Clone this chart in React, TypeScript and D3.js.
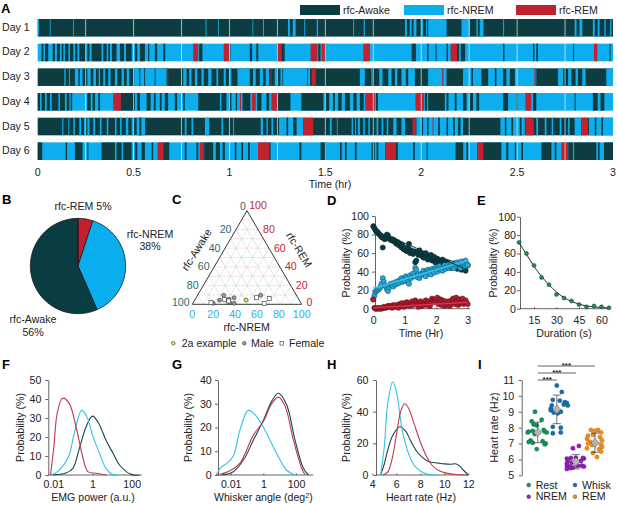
import React, { useEffect, useRef } from 'react';
import * as d3 from 'd3';

type Seg = [number, number, string];

const AWAKE = '#0a3d41';
const NREM = '#0aaeef';
const REM = '#c1202f';
const FONT = '"Liberation Sans", Arial, sans-serif';
const TXT = 10.6;
const stateColor: Record<string, string> = { A: AWAKE, N: NREM, R: REM };

const dayLabels = ['Day 1', 'Day 2', 'Day 3', 'Day 4', 'Day 5', 'Day 6'];
const dayBases = ['A', 'N', 'A', 'N', 'A', 'N'];

// Sleep-state intervals in hours, painted in order over each day's base state
const day1: Seg[] = [[0, .006, 'N'], [.063, .067, 'N'], [.184, .188, 'N'], [.875, .88, 'N'], [.94, .944, 'N'], [1.12, 1.124, 'N'], [1.175, 1.18, 'N'], [1.305, 1.315, 'N'], [1.33, 1.345, 'N'], [1.39, 1.395, 'N'], [1.455, 1.462, 'N'], [1.645, 1.65, 'N'], [1.7, 1.706, 'N'], [1.915, 1.925, 'N'], [1.94, 1.95, 'N'], [1.96, 1.975, 'N'], [2.0, 2.01, 'N'], [2.025, 2.03, 'N'], [2.036, 2.132, 'N'], [2.21, 2.253, 'N'], [2.288, 2.295, 'N'], [2.305, 2.325, 'N'], [2.427, 2.432, 'N'], [2.8, 2.81, 'N'], [2.825, 2.84, 'N'], [2.895, 2.905, 'N'], [2.92, 2.93, 'N'], [2.955, 2.962, 'N'], [2.985, 2.992, 'N']];
const day2: Seg[] = [[.02, .03, 'A'], [.038, .055, 'A'], [.078, .09, 'A'], [.1, .116, 'A'], [.125, .134, 'A'], [.142, .16, 'A'], [.168, .186, 'A'], [.195, .207, 'A'], [.217, .252, 'A'], [.259, .27, 'A'], [.281, .333, 'A'], [.342, .36, 'A'], [.368, .377, 'A'], [.387, .411, 'A'], [.429, .45, 'A'], [.46, .49, 'A'], [.507, .519, 'A'], [.533, .559, 'A'], [.576, .582, 'A'], [.611, .623, 'A'], [.655, .665, 'A'], [.811, .837, 'R'], [.842, .859, 'A'], [.97, .998, 'R'], [1.0, 1.005, 'A'], [1.106, 1.118, 'A'], [1.14, 1.15, 'A'], [1.248, 1.271, 'R'], [1.271, 1.288, 'A'], [1.423, 1.458, 'R'], [1.463, 1.475, 'A'], [1.481, 1.503, 'R'], [1.698, 1.732, 'R'], [1.95, 1.972, 'A'], [2.031, 2.038, 'A'], [2.075, 2.08, 'A'], [2.132, 2.139, 'A'], [2.153, 2.187, 'R'], [2.187, 2.197, 'A'], [2.206, 2.229, 'A'], [2.427, 2.434, 'A'], [2.583, 2.59, 'A'], [2.6, 2.609, 'A'], [2.792, 2.797, 'A'], [2.901, 2.918, 'R'], [2.982, 2.987, 'A']];
const day3: Seg[] = [[.139, .146, 'N'], [.163, .168, 'N'], [.194, .212, 'N'], [.22, .234, 'N'], [.259, .276, 'N'], [.29, .304, 'N'], [.318, .325, 'N'], [.342, .352, 'N'], [.368, .38, 'N'], [.403, .415, 'N'], [.4375, .45, 'N'], [.464, .477, 'N'], [.503, .672, 'N'], [.53, .535, 'A'], [.555, .56, 'A'], [.61, .613, 'A'], [.676, .681, 'R'], [.759, .776, 'N'], [.79, .802, 'N'], [.82, .832, 'N'], [.854, .866, 'N'], [.889, .906, 'N'], [.932, .941, 'N'], [.97, .981, 'N'], [1.002, 1.01, 'N'], [1.042, 1.106, 'N'], [1.123, 1.137, 'N'], [1.158, 1.175, 'N'], [1.189, 1.207, 'N'], [1.214, 1.219, 'R'], [1.236, 1.248, 'N'], [1.266, 1.276, 'N'], [1.28, 1.42, 'N'], [1.405, 1.41, 'R'], [1.429, 1.45, 'R'], [1.68, 1.706, 'N'], [1.74, 1.746, 'N'], [1.781, 1.798, 'N'], [1.828, 1.845, 'N'], [1.863, 1.875, 'N'], [1.897, 1.92, 'N'], [1.932, 1.967, 'N'], [2.036, 2.132, 'N'], [2.109, 2.116, 'R'], [2.218, 2.314, 'N'], [2.262, 2.27, 'A'], [2.349, 2.427, 'N'], [2.384, 2.392, 'A'], [2.444, 2.462, 'N'], [2.488, 2.6, 'N'], [2.59, 2.597, 'R'], [2.713, 2.74, 'N'], [2.766, 2.783, 'N'], [2.805, 2.817, 'N'], [2.84, 2.857, 'N'], [2.965, 3.0, 'N']];
const day4: Seg[] = [[0, .012, 'A'], [.02, .038, 'A'], [.047, .064, 'A'], [.073, .108, 'A'], [.116, .142, 'A'], [.151, .165, 'A'], [.172, .18, 'A'], [.259, .276, 'A'], [.286, .299, 'A'], [.316, .325, 'A'], [.394, .434, 'R'], [.434, .507, 'A'], [.519, .533, 'A'], [.568, .589, 'A'], [.606, .615, 'A'], [.637, .646, 'A'], [.663, .68, 'A'], [.715, .727, 'A'], [.759, .767, 'A'], [.837, .95, 'A'], [.958, .984, 'A'], [.998, 1.01, 'A'], [1.033, 1.04, 'A'], [1.054, 1.06, 'R'], [1.068, 1.109, 'A'], [1.118, 1.137, 'R'], [1.144, 1.167, 'A'], [1.193, 1.207, 'A'], [1.219, 1.25, 'R'], [1.253, 1.318, 'A'], [1.375, 1.49, 'A'], [1.5, 1.52, 'A'], [1.54, 1.55, 'A'], [1.567, 1.585, 'A'], [1.602, 1.628, 'A'], [1.646, 1.663, 'A'], [1.68, 1.7, 'A'], [1.708, 1.758, 'R'], [1.764, 1.774, 'A'], [1.97, 2.014, 'R'], [2.019, 2.03, 'A'], [2.036, 2.123, 'A'], [2.132, 2.142, 'A'], [2.175, 2.184, 'A'], [2.218, 2.236, 'A'], [2.253, 2.27, 'A'], [2.288, 2.302, 'A'], [2.427, 2.453, 'A'], [2.496, 2.505, 'A'], [2.543, 2.574, 'R'], [2.583, 2.6, 'A'], [2.8, 2.805, 'A'], [2.895, 2.92, 'A'], [2.935, 2.955, 'A']];
const day5: Seg[] = [[.128, .134, 'N'], [.16, .165, 'N'], [.186, .194, 'N'], [.217, .226, 'N'], [.241, .248, 'N'], [.259, .27, 'N'], [.29, .299, 'N'], [.325, .333, 'N'], [.36, .368, 'N'], [.403, .411, 'N'], [.429, .4375, 'N'], [.46, .472, 'N'], [.49, .498, 'N'], [.516, .56, 'N'], [.53, .54, 'A'], [.767, .776, 'N'], [.802, .811, 'N'], [.872, .894, 'N'], [.958, .967, 'N'], [1.019, 1.024, 'N'], [1.163, 1.175, 'N'], [1.193, 1.2, 'N'], [1.219, 1.228, 'N'], [1.259, 1.28, 'N'], [1.28, 1.384, 'N'], [1.297, 1.306, 'A'], [1.332, 1.35, 'A'], [1.384, 1.437, 'R'], [1.524, 1.533, 'N'], [1.56, 1.564, 'N'], [1.637, 1.645, 'N'], [1.655, 1.66, 'N'], [1.67, 1.68, 'N'], [1.698, 1.706, 'N'], [1.724, 1.732, 'N'], [1.767, 1.776, 'N'], [1.793, 1.802, 'N'], [1.82, 1.828, 'N'], [1.854, 1.871, 'N'], [1.897, 1.915, 'N'], [1.955, 1.972, 'R'], [1.975, 2.218, 'N'], [2.0, 2.01, 'A'], [2.031, 2.038, 'A'], [2.059, 2.064, 'R'], [2.088, 2.097, 'A'], [2.132, 2.14, 'A'], [2.166, 2.175, 'A'], [2.192, 2.205, 'A'], [2.413, 2.54, 'N'], [2.436, 2.444, 'A'], [2.47, 2.479, 'A'], [2.514, 2.523, 'A'], [2.543, 2.587, 'R'], [2.6, 2.609, 'N'], [2.644, 2.653, 'N'], [2.68, 2.688, 'N'], [2.722, 2.731, 'N'], [2.766, 2.774, 'N'], [2.8, 2.835, 'N'], [2.837, 2.87, 'R'], [2.875, 3.0, 'N'], [2.905, 2.913, 'A'], [2.94, 2.948, 'A']];
const day6: Seg[] = [[0, .024, 'A'], [.146, .153, 'A'], [.194, .234, 'A'], [.259, .264, 'A'], [.333, .403, 'A'], [.411, .4375, 'A'], [.446, .49, 'A'], [.507, .519, 'A'], [.542, .559, 'A'], [.594, .602, 'A'], [.625, .655, 'R'], [.655, .686, 'A'], [.767, .776, 'A'], [.828, .837, 'A'], [.845, .868, 'R'], [.868, .915, 'A'], [.929, .95, 'A'], [.964, .976, 'A'], [1.028, 1.036, 'A'], [1.062, 1.071, 'A'], [1.097, 1.106, 'A'], [1.149, 1.207, 'R'], [1.207, 1.214, 'A'], [1.365, 1.375, 'A'], [1.475, 1.503, 'A'], [1.576, 1.585, 'A'], [1.602, 1.611, 'A'], [1.654, 1.663, 'A'], [1.741, 1.758, 'A'], [1.767, 1.776, 'A'], [1.811, 1.868, 'R'], [1.868, 1.878, 'A'], [1.958, 1.967, 'A'], [2.028, 2.033, 'A'], [2.179, 2.219, 'A'], [2.236, 2.245, 'A'], [2.291, 2.323, 'R'], [2.323, 2.418, 'A'], [2.444, 2.454, 'A'], [2.488, 2.496, 'A'], [2.522, 2.531, 'A'], [2.627, 2.679, 'A'], [2.696, 2.705, 'A'], [2.731, 2.767, 'R'], [2.767, 2.791, 'A'], [2.797, 2.913, 'A'], [2.922, 2.93, 'A'], [2.953, 3.0, 'A']];
const dayData = [day1, day2, day3, day4, day5, day6];
const hourTicks = [0, 0.5, 1, 1.5, 2, 2.5, 3];
const quarterHours = [.25, .5, .75, 1, 1.25, 1.5, 1.75, 2, 2.25, 2.5, 2.75];

const pieNames = ['rfc-REM', 'rfc-NREM', 'rfc-Awake'];
const pieValues = [5, 38, 56];

// Ternary points as [NREM %, REM %]
const ternMale = [[23.9, 9.6], [22.7, 4.3], [30.9, 5.3], [34.7, 7], [37.7, 1], [18.5, 1], [57.6, 9.6], [33.3, 1.8]];
const ternFemale = [[16.2, 1.8], [27, 5.3], [31.5, 3.5], [55.2, 7], [67.1, 6.4], [65.3, .7]];
const ternExample = [[46.9, 4.6]];
const ternTicks = [0, 20, 40, 60, 80, 100];

const probAwake = [89, 87, 85, 83, 83, 81, 80, 79, 77, 66, 76, 75, 78, 80, 79, 76, 75, 74, 75, 73, 74, 72, 70, 72, 71, 68, 70, 66, 68, 64, 65, 63, 62, 66, 70, 60, 63, 61, 59, 62, 50, 52, 61, 58, 63, 60, 57, 59, 55, 58, 60, 56, 53, 57, 55, 58, 52, 54, 56, 50, 53, 54, 51, 49, 52, 50, 53, 48, 46, 51, 49, 47, 50, 47, 44, 48, 46, 49, 45, 47, 43, 46, 44, 48, 42, 45, 43, 47, 41, 46, 47];
const probNrem = [10, 14, 18, 19, 20, 21, 22, 24, 27, 33, 29, 25, 24, 21, 19, 23, 26, 27, 25, 24, 28, 26, 29, 27, 30, 28, 31, 33, 29, 32, 30, 35, 33, 29, 27, 36, 33, 35, 38, 35, 44, 42, 34, 37, 33, 36, 38, 37, 41, 38, 35, 40, 42, 38, 41, 37, 43, 41, 39, 44, 42, 40, 43, 46, 42, 44, 41, 45, 47, 43, 45, 47, 44, 46, 49, 45, 47, 44, 48, 46, 50, 47, 48, 44, 51, 47, 49, 45, 52, 48, 47];
const probRem = [10, 1, 0, 0, 1, 0, 0, 1, 0, 1, 2, 1, 1, 2, 3, 2, 3, 2, 1, 4, 2, 3, 4, 2, 1, 5, 3, 6, 4, 2, 6, 3, 7, 6, 4, 3, 5, 8, 4, 6, 9, 7, 5, 2, 6, 8, 3, 6, 4, 7, 9, 4, 8, 5, 3, 6, 11, 9, 7, 10, 8, 12, 5, 8, 10, 4, 9, 6, 3, 8, 5, 4, 8, 3, 5, 9, 11, 8, 5, 12, 9, 4, 10, 6, 7, 11, 5, 7, 9, 6, 5];
const fitAwake = [85, 42];
const fitNrem = [22, 52];
const fitRem = [1, 7];
const fitHours = [0, 3];

const durSeconds = [5, 10, 15, 20, 25, 30, 35, 40, 45, 50, 55, 60, 65];
const durProb = [72, 60, 47, 34, 26, 15.5, 11.5, 8.5, 4.5, 2, 3, 2, 1];
const durFit = [72, 59, 46, 35, 26, 18, 12, 8, 5, 3, 2, 1.3, 0.8];

// log10 x, then probability
const emgAwake = [[-2.05, 0], [-1.36, 1], [-1, 3.5], [-.67, 14], [-.3, 26], [0, 31], [.3, 27.5], [.7, 18], [1.05, 11.4], [1.4, 5], [2, .2], [2.4, 0]];
const emgNrem = [[-2.14, 0], [-1.97, .5], [-1.53, 4.4], [-1.19, 10.5], [-.93, 22], [-.55, 34], [-.3, 31], [0, 21], [.36, 11.4], [.7, 3.2], [1.05, .2], [1.3, 0]];
const emgRem = [[-2.14, 0], [-1.97, 15], [-1.8, 32.5], [-1.53, 40.4], [-1.19, 37.7], [-.84, 25.4], [-.5, 9.6], [-.24, 1.8], [.19, .9], [.7, 0]];
const whiskAwake = [[-2.55, 0], [-1.84, 1.4], [-1.22, 6.3], [-.61, 14.7], [0, 23], [.51, 31], [.92, 34.4], [1.43, 29.5], [1.94, 14.7], [2.45, 2.8], [2.76, 0]];
const whiskNrem = [[-2.9, 0], [-2.55, 3.5], [-2.24, 4.9], [-1.84, 8], [-1.43, 19], [-.92, 27.2], [-.41, 24.6], [.2, 17.5], [.82, 9], [1.43, 2], [1.94, 0]];
const whiskRem = [[-2.86, 0], [-2.04, 1.8], [-1.43, 5], [-.61, 16.8], [0, 22.5], [.51, 30], [.92, 32.8], [1.33, 29], [1.84, 14.7], [2.35, 2.8], [2.55, 0]];
const hrAwake = [[4.7, 0], [5, 7], [5.3, 16], [5.7, 25], [6.3, 30.5], [6.8, 27.5], [7.2, 21.5], [7.7, 15], [8.2, 11], [8.7, 8.5], [9.5, 7.5], [10, 7], [10.5, 6.8], [11, 7], [11.3, 5.5], [11.6, 3], [12, 0]];
const hrNrem = [[4.7, 0], [5, 18], [5.3, 46], [5.7, 58.7], [6, 53], [6.5, 28], [7, 14], [7.5, 6], [8, 2.5], [8.5, .8], [9, .2], [9.5, 0]];
const hrRem = [[4.9, 0], [5.3, 2], [5.7, 12], [6, 25], [6.4, 41], [6.7, 45], [7, 42.5], [7.5, 32], [8, 21], [8.5, 12], [9, 6], [9.5, 3], [10, 1.5], [11, .3], [12, 0]];

// Heart rate by behaviour, [rate Hz, jitter]
const hrGroups = ['Rest', 'Whisk', 'NREM', 'REM'];
const hrGroupColors = ['#14915a', '#1a6ea8', '#8f1fb5', '#ec8e1e'];
const hrPoints = [
  [[9, -2.7], [8.4, -6], [8.5, 4], [8.2, -4], [8.15, -1], [7.75, -9], [7.8, -5], [7.7, -10], [7.85, 6], [7.75, 7], [7.7, 9], [7.6, -3], [7.2, -7], [7.1, -9], [7.05, -5], [7.15, 5], [7, 8], [6.95, 7], [6.65, -1]],
  [[10.65, 0], [10.25, 5], [9.75, -4], [9.7, 3], [9.6, 8], [9.55, 10], [9.4, -5], [9.45, 7], [9.4, 11], [9.2, -6], [9.1, -6], [9, 4], [8.9, 1], [8.95, -3], [8.05, -4], [8, 4], [7.65, -4], [7.7, 4]],
  [[6.85, 3], [6.7, -3], [6.05, -9], [6.1, -5], [6.1, 0], [6.05, 8], [6.1, 7], [5.9, -8], [5.8, -4], [5.9, 5], [5.75, -9], [5.6, -9], [5.55, -6], [5.5, -3], [5.6, 2], [5.6, 6], [5.55, 8], [5.4, -9], [5.45, -5]],
  [[7.85, -4], [7.8, 0], [7.85, 3], [7.7, 6], [7.5, -7], [7.55, -2], [7.3, -8], [7.4, 5], [7.1, -5], [7, -7], [6.95, 6], [6.8, 7], [6.7, -8], [6.65, 4], [6.5, 6], [6.4, -2], [6.15, 2], [6.9, -3], [7.2, 7]],
];
const hrMeans = [7.7, 9.15, 5.85, 7.05];
const hrSds = [.65, .9, .45, .6];
const sigPairs = [[0, 1], [0, 2], [0, 3]];

const App: React.FC = () => {
  const ref = useRef<SVGSVGElement>(null);

  useEffect(() => {
    if (!ref.current) return;
    const svg = d3.select(ref.current);
    svg.selectAll('*').remove();
    svg.attr('font-family', FONT).attr('fill', '#222');
    svg.append('defs').append('filter').attr('id', 'soft')
      .attr('x', '-1%').attr('width', '102%').attr('y', '-5%').attr('height', '110%')
      .append('feGaussianBlur').attr('stdDeviation', 0.4);

    const label = (x: number, y: number, s: string, size = TXT, anchor = 'middle', fill = '#222') =>
      svg.append('text').attr('x', x).attr('y', y).attr('text-anchor', anchor)
        .attr('font-size', size).attr('fill', fill).text(s);
    const panel = (s: string, x: number, y: number) =>
      label(x, y, s, 13, 'start', '#000').attr('font-weight', 'bold');

    // A: hypnograms
    panel('A', 1, 13);
    const xHour = d3.scaleLinear().domain([0, 3]).range([37.7, 613]);
    const rowY = d3.scaleBand<number>().domain(d3.range(6)).range([19, 160]).paddingInner(0.286).paddingOuter(0);
    dayData.forEach((segs, i) => {
      const g = svg.append('g').attr('transform', `translate(0,${rowY(i)})`).attr('filter', 'url(#soft)');
      const h = rowY.bandwidth();
      g.append('rect').attr('x', xHour(0)).attr('width', xHour(3) - xHour(0)).attr('height', h).attr('fill', stateColor[dayBases[i]]);
      g.selectAll('rect.seg').data(segs).join('rect').attr('class', 'seg')
        .attr('x', d => xHour(d[0])).attr('width', d => Math.max(xHour(d[1]) - xHour(d[0]), 0.8))
        .attr('height', h).attr('fill', d => stateColor[d[2]]);
      g.selectAll('line').data(quarterHours).join('line')
        .attr('x1', d => xHour(d)).attr('x2', d => xHour(d)).attr('y1', 0).attr('y2', h)
        .attr('stroke', '#fff').attr('stroke-width', 0.8).attr('stroke-opacity', 0.8);
      label(2, rowY(i)! + h / 2 + 3, dayLabels[i], 10.6, 'start');
    });
    hourTicks.forEach(t => label(xHour(t), 175.5, String(t)));
    label(330, 188, 'Time (hr)');
    [['rfc-Awake', AWAKE, 300], ['rfc-NREM', NREM, 404], ['rfc-REM', REM, 516]].forEach(([n, c, x]) => {
      svg.append('rect').attr('x', x as number).attr('y', 5).attr('width', 40).attr('height', 10).attr('fill', c as string);
      label((x as number) + 43, 14, n as string, TXT, 'start');
    });

    // B: pie
    panel('B', 2, 204);
    const arcs = d3.pie<number>().sort(null)(pieValues);
    const arc = d3.arc<d3.PieArcDatum<number>>().innerRadius(0).outerRadius(47.7);
    svg.append('g').attr('transform', 'translate(78,266)').selectAll('path').data(arcs).join('path')
      .attr('d', arc).attr('fill', (_, i) => [REM, NREM, AWAKE][i]).attr('stroke', '#111').attr('stroke-width', 0.7);
    label(83, 210, `${pieNames[0]} ${pieValues[0]}%`);
    label(150, 238, pieNames[1]);
    label(150, 250, `${pieValues[1]}%`);
    label(33, 323, pieNames[2]);
    label(33, 336, `${pieValues[2]}%`);

    // C: ternary
    panel('C', 172, 204);
    const ternX = d3.scaleLinear().domain([0, 100]).range([192.3, 301.7]);
    const ternY = d3.scaleLinear().domain([0, 100]).range([304.3, 210.7]);
    const tp = (n: number, r: number): [number, number] => [ternX(n + r / 2), ternY(r)];
    const ternLine = d3.line();
    d3.range(10, 100, 10).forEach(v => {
      const fam: [[number, number], [number, number], string, string][] = [
        [tp(100 - v, 0), tp(0, 100 - v), '#d0d4d6', ''],
        [tp(v, 0), tp(v, 100 - v), '#b2e4f5', ''],
        [tp(100 - v, v), tp(0, v), '#f2b4bd', '2,1'],
      ];
      fam.forEach(([a, b, c, dash]) => svg.append('path').attr('d', ternLine([a, b])).attr('stroke', c)
        .attr('stroke-width', 0.6).attr('stroke-dasharray', dash).attr('fill', 'none'));
    });
    svg.append('path').attr('d', ternLine([tp(0, 0), tp(100, 0), tp(0, 100)]) + 'Z').attr('fill', 'none').attr('stroke', '#222').attr('stroke-width', 0.9);
    ternTicks.forEach(v => {
      const [lx, ly] = tp(0, 100 - v);
      label(lx + (v === 0 ? -4 : v === 100 ? -11.5 : -10.5), (v === 0 ? 206.7 : v === 100 ? 302.3 : ly) + 3.5, String(v), TXT, 'middle', '#2c6a6c');
      const [rx, ry] = tp(100 - v, v);
      label(rx + (v === 0 ? 7.8 : 11), (v === 100 ? 205.7 : v === 0 ? 302.3 : ry) + 3.5, String(v), TXT, 'middle', '#c0273d');
      label(ternX(v) - (v === 100 || v === 0 ? 0 : 1), 318, String(v), TXT, 'middle', '#29afe6');
    });
    label(0, 0, 'rfc-Awake').attr('transform', 'translate(199.7,251.7) rotate(-58)');
    label(0, 0, 'rfc-REM').attr('transform', 'translate(296,251.7) rotate(58)');
    label(246.7, 330.5, 'rfc-NREM');
    const ternG = svg.append('g').attr('stroke', '#333').attr('stroke-width', 0.6);
    ternMale.forEach(([n, r]) => ternG.append('circle').attr('cx', tp(n, r)[0]).attr('cy', tp(n, r)[1]).attr('r', 2).attr('fill', '#9a9a9a'));
    ternFemale.forEach(([n, r]) => ternG.append('rect').attr('x', tp(n, r)[0] - 2).attr('y', tp(n, r)[1] - 2).attr('width', 4).attr('height', 4).attr('fill', '#fff'));
    ternExample.forEach(([n, r]) => ternG.append('circle').attr('cx', tp(n, r)[0]).attr('cy', tp(n, r)[1]).attr('r', 2).attr('fill', '#f2e230'));
    ternG.append('circle').attr('cx', 173.3).attr('cy', 343.3).attr('r', 1.8).attr('fill', '#f2e230');
    label(181.7, 347, '2a example', TXT, 'start');
    ternG.append('circle').attr('cx', 244.3).attr('cy', 343.3).attr('r', 1.8).attr('fill', '#9a9a9a');
    label(251, 347, 'Male', TXT, 'start');
    ternG.append('rect').attr('x', 280).attr('y', 341.5).attr('width', 3.6).attr('height', 3.6).attr('fill', '#fff');
    label(289, 347, 'Female', TXT, 'start');

    const curve = d3.line<number[]>().curve(d3.curveCatmullRom.alpha(0.5));
    // y axis stands at x0, the x axis line runs from x0 to xEnd
    const axes = (x: d3.AxisScale<number>, y: d3.AxisScale<number>, y0: number, x0: number, xEnd: number, xTicks: number[], yTicks: number[], xPad: number, yPad: number) => {
      const gx = svg.append('g').attr('transform', `translate(0,${y0})`)
        .call(d3.axisBottom(x).tickValues(xTicks).tickSizeInner(-1.5).tickSizeOuter(0).tickPadding(xPad).tickFormat(d => String(d)));
      gx.select('.domain').remove();
      svg.append('line').attr('x1', x0).attr('x2', xEnd).attr('y1', y0).attr('y2', y0).attr('stroke', '#222').attr('stroke-width', 0.7);
      const gy = svg.append('g').attr('transform', `translate(${x0},0)`)
        .call(d3.axisLeft(y).tickValues(yTicks).tickSize(3).tickSizeOuter(0).tickPadding(yPad).tickFormat(d => String(d)));
      [gx, gy].forEach(g => {
        g.attr('font-family', FONT).attr('font-size', TXT);
        g.selectAll('text').attr('fill', '#222');
        g.selectAll('path,line').attr('stroke', '#222').attr('stroke-width', 0.7);
      });
    };
    const yLabel = (x: number, y: number, s: string) => label(0, 0, s).attr('transform', `translate(${x},${y}) rotate(-90)`);

    // D: probability over time
    panel('D', 327, 205);
    const xD = d3.scaleLinear().domain([0, 3]).range([373.3, 467.7]);
    const yD = d3.scaleLinear().domain([0, 100]).range([308.7, 216]);
    axes(xD, yD, 308.7, 375, 470, [0, 1, 2, 3], [0, 20, 40, 60, 80, 100], 7.8, 3);
    yLabel(350, 263, 'Probability (%)');
    label(421, 336.5, 'Time (Hr)');
    const hourOf = (i: number) => i / 30;
    ([[probAwake, AWAKE, '#06282b'], [probNrem, '#2aa7d6', '#0f4a5e'], [probRem, '#b01c30', '#5a0e18']] as [number[], string, string][])
      .forEach(([vals, fill, stroke]) => {
        svg.append('g').selectAll('circle').data(vals).join('circle')
          .attr('cx', (_, i) => xD(hourOf(i))).attr('cy', d => yD(d)).attr('r', 2.6)
          .attr('fill', fill).attr('stroke', stroke).attr('stroke-width', 0.5);
      });
    ([[fitRem, '#d8324a', 1.5], [fitNrem, '#2cc3f2', 1.8], [fitAwake, AWAKE, 1]] as [number[], string, number][]).forEach(([f, c, w]) => {
      svg.append('line').attr('x1', xD(fitHours[0])).attr('x2', xD(fitHours[1])).attr('y1', yD(f[0])).attr('y2', yD(f[1]))
        .attr('stroke', c).attr('stroke-width', w);
    });

    // E: duration
    panel('E', 477, 205);
    const xE = d3.scaleLinear().domain([5, 65]).range([519, 609]);
    const yE = d3.scaleLinear().domain([0, 100]).range([308.7, 216.7]);
    axes(xE, yE, 308.7, 520, 610, [15, 30, 45, 60], [0, 20, 40, 60, 80, 100], 7.8, 1);
    yLabel(497, 263, 'Probability (%)');
    label(564, 336.5, 'Duration (s)');
    svg.append('path').attr('d', curve(durSeconds.map((s, i) => [xE(s), yE(durFit[i])]))).attr('fill', 'none').attr('stroke', '#111').attr('stroke-width', 0.9);
    svg.append('g').selectAll('circle').data(durProb).join('circle')
      .attr('cx', (_, i) => xE(durSeconds[i])).attr('cy', d => yE(d)).attr('r', 2)
      .attr('fill', '#1d8a5c').attr('stroke', '#0c3d2a').attr('stroke-width', 0.5);

    const densityColors = ['#17464a', '#33c1ea', '#c0384e'];

    // F: EMG power
    panel('F', 2, 369);
    const xF = d3.scaleLog().domain([0.01, 100]).range([53.3, 131.7]);
    const yF = d3.scaleLinear().domain([0, 50]).range([475, 380]);
    axes(xF as any, yF, 475, 48.3, 141.7, [0.01, 1, 100], [0, 10, 20, 30, 40, 50], 5.6, 4);
    yLabel(24, 427.5, 'Probability (%)');
    label(93, 501, 'EMG power (a.u.)');
    [emgAwake, emgNrem, emgRem].forEach((c, i) => svg.append('path')
      .attr('d', curve(c.map(d => [xF(10 ** d[0]), yF(d[1])]))).attr('fill', 'none').attr('stroke', densityColors[i]).attr('stroke-width', 1.1));

    // G: whisker angle
    panel('G', 172, 369);
    const xG = d3.scaleLog().domain([0.01, 100]).range([230.7, 296]);
    const yG = d3.scaleLinear().domain([0, 40]).range([475, 380]);
    axes(xG as any, yG, 475, 218, 313.3, [0.01, 1, 100], [0, 10, 20, 30, 40], 5.6, 3.3);
    yLabel(192, 427.5, 'Probability (%)');
    const gt = label(263.3, 501, 'Whisker angle (deg');
    gt.append('tspan').attr('font-size', 7).attr('dy', -3).text('2');
    gt.append('tspan').attr('dy', 3).text(')');
    [whiskAwake, whiskNrem, whiskRem].forEach((c, i) => svg.append('path')
      .attr('d', curve(c.map(d => [xG(10 ** d[0]), yG(d[1])]))).attr('fill', 'none').attr('stroke', densityColors[i]).attr('stroke-width', 1.1));

    // H: heart rate density
    panel('H', 327, 369);
    const xH = d3.scaleLinear().domain([4, 12]).range([372.3, 468.3]);
    const yH = d3.scaleLinear().domain([0, 60]).range([475, 380]);
    axes(xH, yH, 475, 376, 468.3, [4, 6, 8, 10, 12], [0, 20, 40, 60], 5.6, 4.5);
    yLabel(350, 427.5, 'Probability (%)');
    label(421, 501, 'Heart rate (Hz)');
    [hrAwake, hrNrem, hrRem].forEach((c, i) => svg.append('path')
      .attr('d', curve(c.map(d => [xH(d[0]), yH(d[1])]))).attr('fill', 'none').attr('stroke', densityColors[i]).attr('stroke-width', 1.1));

    // I: heart rate by behaviour
    panel('I', 478, 369);
    const xI = d3.scalePoint<string>().domain(hrGroups).range([537.7, 595]);
    const yI = d3.scaleLinear().domain([5, 11]).range([475.3, 380]);
    const gyI = svg.append('g').attr('transform', 'translate(521.7,0)').call(d3.axisLeft(yI).tickValues([5, 6, 7, 8, 9, 10, 11]).tickSize(3).tickSizeOuter(0).tickPadding(4.5).tickFormat(d => String(d)));
    gyI.attr('font-family', FONT).attr('font-size', TXT);
    gyI.selectAll('text').attr('fill', '#222');
    gyI.selectAll('path,line').attr('stroke', '#222').attr('stroke-width', 0.7);
    yLabel(498, 427.5, 'Heart rate (Hz)');
    hrGroups.forEach((name, i) => {
      const cx = xI(name)!;
      svg.append('g').selectAll('circle').data(hrPoints[i]).join('circle')
        .attr('cx', d => cx + d[1]).attr('cy', d => yI(d[0])).attr('r', 2.2)
        .attr('fill', hrGroupColors[i]).attr('stroke', d3.color(hrGroupColors[i])!.darker(1).toString()).attr('stroke-width', 0.3);
      const lo = yI(hrMeans[i] - hrSds[i]);
      const hi = yI(hrMeans[i] + hrSds[i]);
      const g = svg.append('g').attr('stroke', '#333').attr('stroke-width', 0.7);
      g.append('line').attr('x1', cx).attr('x2', cx).attr('y1', lo).attr('y2', hi);
      g.append('line').attr('x1', cx - 4).attr('x2', cx + 4).attr('y1', lo).attr('y2', lo);
      g.append('line').attr('x1', cx - 4).attr('x2', cx + 4).attr('y1', hi).attr('y2', hi);
      const my = yI(hrMeans[i]);
      g.append('path').attr('d', `M${cx},${my - 4.5}L${cx + 4},${my}L${cx},${my + 4.5}L${cx - 4},${my}Z`).attr('fill', '#b4b4b4').attr('stroke-width', 0.4);
    });
    sigPairs.forEach(([a, b], i) => {
      const y = 380 - i * 7;
      const x1 = xI(hrGroups[a])!;
      const x2 = xI(hrGroups[b])!;
      svg.append('line').attr('x1', x1).attr('x2', x2).attr('y1', y).attr('y2', y).attr('stroke', '#555').attr('stroke-width', 0.9);
      label((x1 + x2) / 2, y + 1.5, '***', 8).attr('font-weight', 'bold');
    });
    hrGroups.forEach((name, i) => {
      const x = i % 2 === 0 ? 528.7 : 575;
      const y = i < 2 ? 485 : 496.7;
      svg.append('circle').attr('cx', x).attr('cy', y).attr('r', 2).attr('fill', hrGroupColors[i]).attr('stroke', '#333').attr('stroke-width', 0.3);
      label(x + 7, y + 3.5, name, TXT, 'start');
    });
  }, []);

  return <svg ref={ref} width={617} height={505} style={{ position: 'absolute', left: 0, top: 0 }} />;
};

export default App;
